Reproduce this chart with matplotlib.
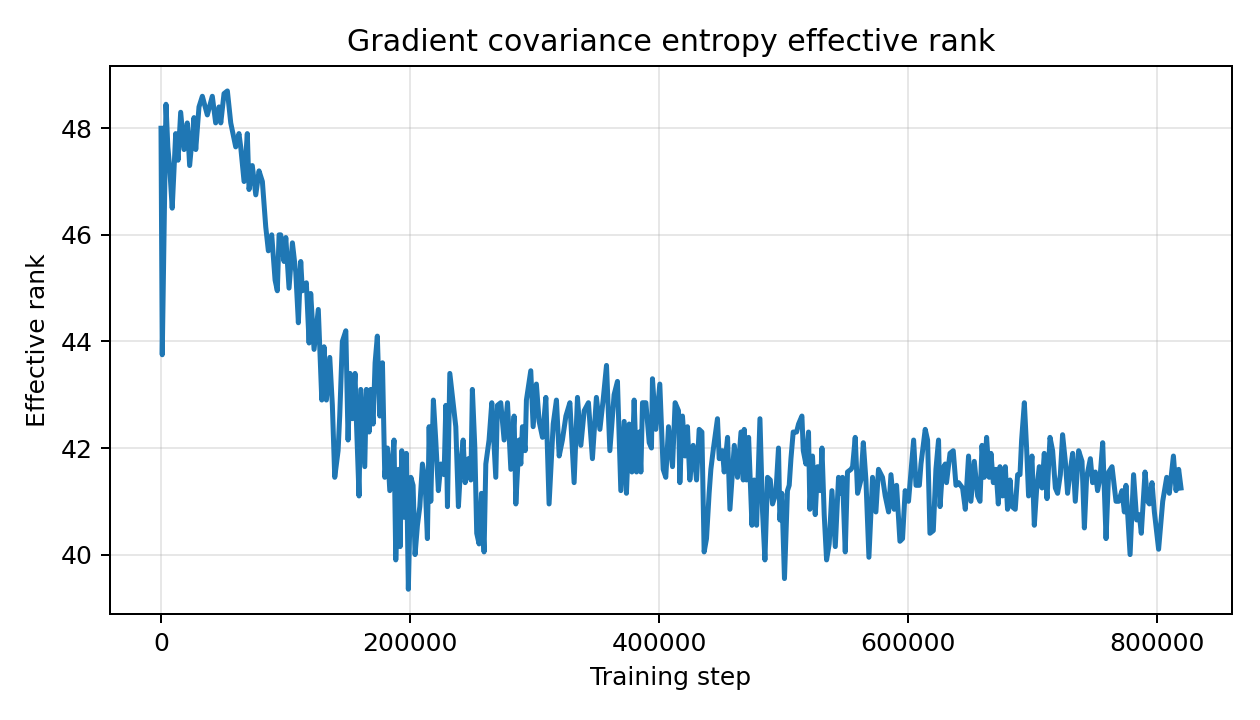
import matplotlib
matplotlib.use('Agg')
import matplotlib.pyplot as plt
import numpy as np

# training step (thousands) and effective rank
steps_k = [0, 1, 4, 5.5, 7, 9, 11.8, 13.7, 15.8, 18.5, 21.1, 23, 26.5, 27.9, 30.5, 33.2, 37.2, 41.2,
           43.9, 46.6, 48, 50.6, 53.3, 56, 60, 62.6, 64, 66.7, 69.3, 70.7, 73.3, 76.1, 78.7, 81.4,
           84.1, 86.2, 88.9, 91.6, 93.4, 94.8,
           96.1, 98.8, 100.2, 102.8, 105.5, 108.2, 110.3, 112.2, 113.5, 116.7, 118.9, 120.2, 122.9,
           126.3, 129.1, 130.9, 132.8, 135.5, 137.6, 139.5, 142.2, 143.5, 145.6, 148.4, 150.2, 151.8,
           153.7, 155.8, 156.9, 159, 160.4, 162.2, 163.6, 164.9, 167.1, 168.4, 170.3, 171.9, 173.7,
           175.7, 177.8, 179.7, 181.8, 183.7, 187.1,
           188.5, 190.6, 192, 193.3, 195.2, 197, 198.6, 200.6, 202.4, 204, 205.9, 207.8, 209.9, 212,
           213.9, 215.3, 216.6, 218.7, 220.6, 222.7, 224.7, 227.3, 228.7, 230, 231.9, 234.5, 236.7,
           238.8, 240.7, 242.6, 244.2, 246.8, 248.8, 250, 252, 253.5, 255.4, 257.3, 259.4, 260.8,
           263.4, 265.6, 268.8, 270.1, 272.8, 275.5, 278.2,
           280.9, 283.5, 284.9, 287.5, 288.9, 290.2, 292.4, 293.4, 296.9, 298.8, 301.4, 303.6, 306.3,
           309, 311.6, 314.9, 317.5, 319.7, 322.3, 325.1, 328.3, 331.7, 334.4, 337.1, 339.8, 343.2,
           346.4, 349.6, 352.4, 355, 357.7, 360.4, 363.8, 366.5, 369.2, 371.9, 373.7,
           375.9, 378.1, 379.9, 381.8, 383.9, 385.3, 386.6, 389.3, 392, 393.8, 394.6, 397.3, 400.5,
           403.2, 405.3, 407.5, 410.7, 412.8, 415.5, 416.6, 418.7, 420.9, 422.7, 424.6, 427.3, 430,
           432.1, 434.3, 436.1, 438, 440.1, 441.5, 443.6, 446.8, 448.2, 450.8, 452.2, 454.9, 456.8,
           460.3, 462.9, 465.7, 467.5, 468.3, 470.1, 471.8,
           474.5, 476.3, 478.2, 480.9, 483, 484.9, 487, 489.2, 491, 493.7, 495.8, 496.9, 498.5,
           500.6, 503, 504.4, 505.8, 507.6, 510.3, 511.9, 514.6, 515.7, 517.8, 519.9, 521, 523.1,
           525.3, 527.2, 529.3, 530.7, 532.5, 534.4, 536.5, 538.7, 541.4, 544, 545.9, 547.2, 549.4,
           551.2, 554, 555.3, 557.4, 559.3, 562, 563.9, 566, 568.4,
           571.3, 574, 576.1, 579.3, 581.5, 584.2, 586.1, 588.7, 590.6, 593.3, 595.4, 597.5, 600.2,
           602.2, 604.3, 606.2, 608.9, 610.2, 613.6, 615.5, 617.4, 620.1, 622.2, 624.3, 625.5,
           627.5, 629.7, 630.7, 633.5, 636.1, 638.3, 640.4, 643.6, 645.8, 648.4, 650.3, 653, 655.7,
           657.6, 659.2, 661, 662.9,
           665, 666.4, 668.3, 670.4, 672.3, 673.6, 675.7, 677.9, 679.7, 681.7, 683.3, 685.9, 687.8,
           689.7, 691, 693.2, 695, 696.6, 699.3, 701.2, 703, 705.2, 707.4, 709.2, 711.4, 713.8,
           715.9, 718.1, 719.9, 722.1, 723.9, 726.1, 727.9, 729.9, 732, 734.1, 736.8, 739.5, 741.4,
           743.2, 746.2, 748, 750.2, 752, 754, 756.1, 758.8, 760.9,
           763.6, 766.8, 768.9, 771.6, 773.5, 774.8, 778.1, 780.9, 783.4, 785.5, 787.1, 790.1,
           792.2, 793.6, 795.7, 797.6, 801, 804.3, 807.5, 809.6, 812.9, 815, 817.1, 819]

eff_rank = [48.0, 43.75, 48.45, 47.65, 47.25, 46.5, 47.9, 47.4, 48.3, 47.6, 48.1, 47.3, 48.2, 47.6,
            48.4, 48.6, 48.25, 48.6, 48.1, 48.4, 48.1, 48.65, 48.7, 48.1, 47.65, 47.9, 47.65, 47.0,
            47.9, 46.85, 47.3, 46.75, 47.2, 47.0, 46.15, 45.7, 46.0, 45.15, 44.95, 46.0,
            46.0, 45.5, 45.95, 45.0, 45.85, 45.3, 44.35, 45.5, 44.95, 45.1, 43.97, 44.9, 43.85,
            44.6, 42.9, 43.9, 42.9, 43.7, 42.8, 41.45, 41.95, 42.6, 44.0, 44.2, 42.15, 43.4,
            42.55, 43.4, 42.5, 41.1, 43.1, 42.3, 41.65, 43.1, 42.3, 43.1, 42.45, 43.6, 44.1,
            42.6, 43.6, 41.45, 42.0, 41.2, 42.15,
            39.9, 41.6, 40.15, 41.95, 40.7, 41.9, 39.35, 41.45, 41.3, 40.0, 40.55, 40.9, 41.7, 41.4,
            40.3, 42.4, 41.0, 42.9, 42.15, 41.2, 41.7, 41.5, 42.8, 40.9, 43.4, 42.85, 42.4,
            40.9, 41.7, 42.15, 41.35, 41.8, 41.4, 43.1, 42.0, 40.4, 40.2, 41.15, 40.05, 41.7,
            42.15, 42.85, 41.45, 42.8, 42.85, 42.15, 42.85,
            41.6, 42.6, 40.95, 42.15, 41.7, 42.4, 41.95, 42.9, 43.45, 42.4, 43.2, 42.5, 42.2,
            42.95, 40.95, 42.45, 42.9, 41.85, 42.15, 42.6, 42.85, 41.35, 42.95, 42.05, 42.7, 42.85,
            41.8, 42.95, 42.35, 42.9, 43.55, 41.95, 43.0, 43.25, 41.2, 42.5, 41.15,
            42.45, 41.55, 42.9, 41.55, 42.3, 41.55, 42.85, 42.85, 42.1, 42.0, 43.3, 42.35, 43.2,
            41.6, 41.45, 42.4, 41.65, 42.85, 42.7, 41.35, 42.6, 41.85, 42.4, 41.4, 42.05, 41.4,
            42.35, 42.3, 40.05, 40.3, 41.15, 41.6, 42.0, 42.55, 41.8, 41.95, 41.55, 42.2, 40.85,
            42.05, 41.45, 42.3, 41.4, 42.35, 41.4, 42.2,
            40.55, 41.4, 40.55, 42.55, 40.8, 39.9, 41.45, 41.4, 40.95, 41.15, 42.0, 40.65, 41.15,
            39.55, 41.2, 41.3, 41.8, 42.3, 42.3, 42.45, 42.6, 41.95, 41.7, 42.3, 40.85, 41.85,
            40.75, 41.65, 41.2, 42.0, 40.75, 39.9, 40.2, 41.2, 40.15, 41.45, 41.15, 41.45, 40.05,
            41.55, 41.6, 41.65, 42.2, 41.15, 41.4, 42.1, 41.4, 39.95,
            41.45, 40.8, 41.6, 41.45, 41.1, 40.8, 41.5, 40.85, 41.3, 40.25, 40.3, 41.2, 41.0,
            41.55, 42.15, 41.3, 41.3, 41.7, 42.35, 42.15, 40.4, 40.45, 41.6, 42.15, 40.9,
            41.6, 41.7, 41.35, 41.9, 41.95, 41.3, 41.35, 41.25, 40.85, 41.85, 41.0, 41.75, 41.1,
            41.0, 42.05, 41.45, 42.2,
            41.45, 41.9, 41.35, 41.6, 40.95, 41.65, 41.1, 41.65, 40.85, 41.4, 40.9, 40.85, 41.5,
            41.5, 42.15, 42.85, 42.0, 41.1, 41.85, 40.55, 41.2, 41.65, 41.25, 41.9, 41.05, 42.2,
            41.95, 41.25, 41.15, 41.5, 42.25, 41.75, 41.15, 41.55, 41.9, 41.0, 41.95, 41.75, 40.5,
            41.45, 41.8, 41.35, 41.55, 41.2, 41.45, 42.1, 40.3, 41.55,
            41.65, 41.0, 41.0, 41.2, 40.8, 41.3, 40.0, 41.5, 40.65, 40.75, 40.4, 41.55,
            41.0, 40.95, 41.35, 40.8, 40.1, 41.0, 41.45, 41.15, 41.85, 41.2, 41.6, 41.25]

steps = np.array(steps_k) * 1000

fig, ax = plt.subplots(figsize=(7, 4), dpi=180)
fig.subplots_adjust(left=0.0873, right=0.9778, top=0.9083, bottom=0.147)

ax.plot(steps, eff_rank, color='#1f77b4', lw=2)
ax.grid(True, alpha=0.3)
ax.set_title('Gradient covariance entropy effective rank')
ax.set_xlabel('Training step')
ax.set_ylabel('Effective rank')

fig.savefig('out.png', dpi=180)
